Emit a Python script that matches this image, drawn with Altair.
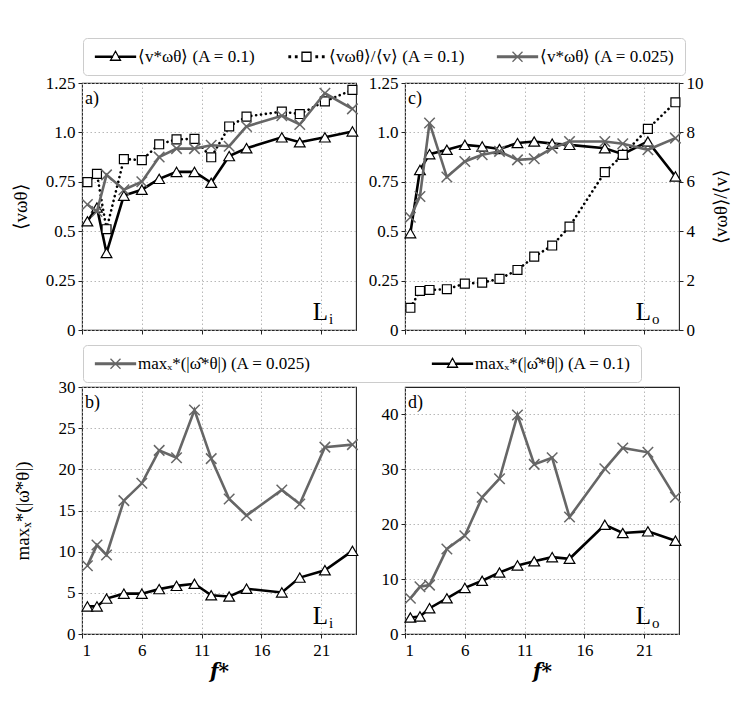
import altair as alt
import pandas as pd

# ---------------- data ----------------
F = [1.45, 2.25, 3.05, 4.5, 6.0, 7.45, 8.9, 10.4, 11.8, 13.3, 14.75, 17.7, 19.2, 21.3, 23.6]

# panel a (L_i)
A_VSTAR_01 = [0.55, 0.62, 0.39, 0.68, 0.71, 0.765, 0.80, 0.80, 0.745, 0.88, 0.92, 0.975, 0.95, 0.975, 1.005]
A_RATIO_01 = [0.748, 0.79, 0.51, 0.865, 0.86, 0.94, 0.965, 0.967, 0.874, 1.03, 1.08, 1.105, 1.093, 1.157, 1.215]
A_VSTAR_0025 = [0.635, 0.60, 0.785, 0.71, 0.75, 0.875, 0.918, 0.918, 0.935, 0.93, 1.03, 1.084, 1.04, 1.198, 1.119]

# panel c (L_o)
C_VSTAR_01 = [0.49, 0.81, 0.89, 0.912, 0.937, 0.929, 0.916, 0.946, 0.954, 0.943, 0.937, 0.92, 0.89, 0.954, 0.777]
C_RATIO_01 = [0.90, 1.58, 1.62, 1.65, 1.88, 1.92, 2.07, 2.43, 2.97, 3.42, 4.19, 6.39, 7.09, 8.14, 9.22]
C_VSTAR_0025 = [0.571, 0.676, 1.048, 0.774, 0.853, 0.887, 0.904, 0.861, 0.867, 0.92, 0.954, 0.954, 0.943, 0.912, 0.971]

# panel b (L_i)
B_OMEGA_0025 = [8.3, 10.8, 9.6, 16.2, 18.3, 22.3, 21.4, 27.2, 21.3, 16.4, 14.4, 17.5, 15.8, 22.7, 23.0]
B_OMEGA_01 = [3.35, 3.35, 4.3, 4.9, 4.9, 5.45, 5.85, 6.1, 4.7, 4.55, 5.5, 5.05, 6.85, 7.75, 10.1]

# panel d (L_o)
D_OMEGA_0025 = [6.5, 8.6, 8.9, 15.5, 17.9, 24.9, 28.3, 39.9, 30.9, 32.1, 21.3, 30.1, 33.9, 33.1, 24.9]
D_OMEGA_01 = [3.0, 3.2, 4.7, 6.5, 8.4, 9.7, 11.2, 12.5, 13.25, 14.0, 13.7, 19.9, 18.4, 18.7, 17.0]

X_TICKS = [1, 6, 11, 16, 21]
X_DOMAIN = [1, 23.9]
V_DOMAIN = [0, 1.25]
V_TICKS = [0, 0.25, 0.5, 0.75, 1.0, 1.25]
R_DOMAIN = [0, 10]
R_TICKS = [0, 2, 4, 6, 8, 10]
B_DOMAIN = [0, 30]
B_TICKS = [0, 5, 10, 15, 20, 25, 30]
D_DOMAIN = [0, 45]
D_TICKS = [0, 10, 20, 30, 40]

TOP_LABELS = ["⟨v*ωθ⟩ (A = 0.1)", "⟨vωθ⟩/⟨v⟩ (A = 0.1)", "⟨v*ωθ⟩ (A = 0.025)"]
BOT_LABELS = ["maxₓ*(|ω̂*θ|) (A = 0.025)", "maxₓ*(|ω̂*θ|) (A = 0.1)"]

# ---------------- style ----------------
FONT = "Liberation Serif"
GRAY = "#666666"
W, H = 274, 247
X_PATH = "M-1,-1L1,1M-1,1L1,-1"
TRI_LEG = "M-4,-0.14H-0.62V0.14H-4Z M0.62,-0.14H4V0.14H0.62Z M0,-1.1L1,0.7L-1,0.7Z"
SQ_LEG = ("M-0.9,-0.9H0.9V0.9H-0.9Z M-3.5,-0.15h0.3v0.3h-0.3Z M-2.2,-0.15h0.3v0.3h-0.3Z "
          "M1.9,-0.15h0.3v0.3h-0.3Z M3.2,-0.15h0.3v0.3h-0.3Z")
X_LEG = "M-4,-0.15H4V0.15H-4Z M-1,-1L1,1M-1,1L1,-1"

GRID = dict(grid=True, gridColor="#b0b0b0", gridDash=[1.5, 2.5], gridWidth=0.9)


def frame(vals):
    return pd.DataFrame({"f": F, "v": vals})


def x_enc(axis=None):
    kw = dict(scale=alt.Scale(domain=X_DOMAIN, nice=False, zero=False))
    if axis is not None:
        kw["axis"] = axis
    return alt.X("f:Q", **kw)


def y_enc(domain, axis=None, hide=False):
    kw = dict(scale=alt.Scale(domain=domain, nice=False, zero=False))
    if axis is not None:
        kw["axis"] = axis
    elif hide:
        kw["axis"] = None
    return alt.Y("v:Q", **kw)


def x_bottom(labels):
    kw = dict(values=X_TICKS, labels=labels, domain=False, ticks=True, tickSize=4,
              tickColor="#222", labelFontSize=17, labelPadding=4, labelColor="black",
              titleFont="DejaVu Serif", titleFontSize=20, titleFontWeight="bold",
              titleFontStyle="italic", titlePadding=3, titleColor="black", **GRID)
    kw["title"] = "f*" if labels else ""
    return alt.Axis(**kw)


def y_left(values, title, pad, expr=None):
    kw = dict(values=values, title=title, domain=False, ticks=True, tickSize=4,
              tickColor="#222", labelFontSize=17, labelPadding=3, labelColor="black",
              titleFontSize=19, titleFontWeight="normal", titlePadding=pad,
              titleColor="black", **GRID)
    if expr:
        kw["labelExpr"] = expr
    return alt.Axis(**kw)


V_EXPR = "datum.value == 1 ? '1.0' : format(datum.value, '~g')"

Y_RIGHT = alt.Axis(orient="right", values=R_TICKS, title="⟨vωθ⟩/⟨v⟩", grid=False,
                   domain=False, ticks=True, tickSize=4, tickColor="#222",
                   labelFontSize=17, labelPadding=3, labelColor="black",
                   titleFontSize=19, titleFontWeight="normal", titlePadding=8,
                   titleAngle=270, titleBaseline="top", titleColor="black")


def solid_line(vals, color, domain, xaxis=None, yaxis=None, hide=False):
    return alt.Chart(frame(vals)).mark_line(color=color, strokeWidth=2.6).encode(
        x=x_enc(xaxis), y=y_enc(domain, yaxis, hide))


def dotted_line(vals, domain, yaxis=None, hide=False):
    return alt.Chart(frame(vals)).mark_line(
        color="black", strokeWidth=2.6, strokeDash=[0.1, 4.8], strokeCap="round").encode(
        x=x_enc(), y=y_enc(domain, yaxis, hide))


def tri_pts(vals, domain, hide=False):
    return alt.Chart(frame(vals)).mark_point(
        shape="triangle-up", size=115, filled=True, fill="white", stroke="black",
        strokeWidth=1.2, opacity=1).encode(x=x_enc(), y=y_enc(domain, None, hide))


def sq_pts(vals, domain, hide=False):
    return alt.Chart(frame(vals)).mark_point(
        shape="square", size=80, filled=True, fill="white", stroke="black",
        strokeWidth=1.2, opacity=1).encode(x=x_enc(), y=y_enc(domain, None, hide))


def x_pts(vals, domain, hide=False):
    return alt.Chart(frame(vals)).mark_point(
        shape=X_PATH, size=110, filled=False, stroke=GRAY, strokeWidth=1.5,
        opacity=1).encode(x=x_enc(), y=y_enc(domain, None, hide))


def legend_layer(labels, paths, strokes, domain, below, legend_y, col_pad):
    n = len(labels)
    d = pd.DataFrame({"f": [12.0] * n, "v": [below] * n, "series": labels})
    leg = alt.Legend(orient="none", legendX=1, legendY=legend_y, direction="horizontal",
                     columns=n, title=None, symbolOffset=14, labelOffset=14,
                     columnPadding=col_pad, padding=10, strokeColor="#cccccc",
                     cornerRadius=4, fillColor="white", labelFont=FONT,
                     labelFontSize=17, labelColor="black", labelLimit=0,
                     symbolSize=100, symbolStrokeWidth=1.3)
    return alt.Chart(d).mark_point(clip=True, size=100, filled=True, strokeWidth=1.3,
                                   opacity=1).encode(
        x=x_enc(), y=y_enc(domain),
        shape=alt.Shape("series:N", scale=alt.Scale(domain=labels, range=paths), legend=leg),
        stroke=alt.Stroke("series:N", scale=alt.Scale(domain=labels, range=strokes), legend=leg),
        fill=alt.Fill("series:N", scale=alt.Scale(domain=labels, range=["white"] * n), legend=leg),
    )


def text_layer(txt, x, y, size, align="left"):
    return alt.Chart(pd.DataFrame({"t": [txt]})).mark_text(
        align=align, baseline="alphabetic", fontSize=size, font=FONT, color="black").encode(
        text="t:N", x=alt.value(x), y=alt.value(y))


def corner_labels(tag, sub):
    return [text_layer(tag, 3, 21, 18),
            text_layer("L", W - 28, H - 10, 25, align="right"),
            text_layer(sub, W - 27, H - 6, 15)]


# ---------------- panels ----------------
panel_a = alt.layer(
    solid_line(A_VSTAR_01, "black", V_DOMAIN, x_bottom(False), y_left(V_TICKS, "⟨vωθ⟩", 15, V_EXPR)),
    tri_pts(A_VSTAR_01, V_DOMAIN),
    dotted_line(A_RATIO_01, V_DOMAIN),
    sq_pts(A_RATIO_01, V_DOMAIN),
    solid_line(A_VSTAR_0025, GRAY, V_DOMAIN),
    x_pts(A_VSTAR_0025, V_DOMAIN),
    *corner_labels("a)", "i"),
    legend_layer(TOP_LABELS, [TRI_LEG, SQ_LEG, X_LEG], ["black", "black", GRAY],
                 V_DOMAIN, -0.15, -45, 28),
).properties(width=W, height=H)

panel_c = alt.layer(
    solid_line(C_VSTAR_01, "black", V_DOMAIN, x_bottom(False), y_left(V_TICKS, "", 15, V_EXPR)),
    tri_pts(C_VSTAR_01, V_DOMAIN, hide=True),
    dotted_line(C_RATIO_01, R_DOMAIN, Y_RIGHT),
    sq_pts(C_RATIO_01, R_DOMAIN, hide=True),
    solid_line(C_VSTAR_0025, GRAY, V_DOMAIN, hide=True),
    x_pts(C_VSTAR_0025, V_DOMAIN, hide=True),
    *corner_labels("c)", "o"),
).resolve_scale(y="independent").properties(width=W, height=H)

panel_b = alt.layer(
    solid_line(B_OMEGA_0025, GRAY, B_DOMAIN, x_bottom(True), y_left(B_TICKS, "maxₓ*(|ω̂*θ|)", 26)),
    x_pts(B_OMEGA_0025, B_DOMAIN),
    solid_line(B_OMEGA_01, "black", B_DOMAIN),
    tri_pts(B_OMEGA_01, B_DOMAIN),
    *corner_labels("b)", "i"),
    legend_layer(BOT_LABELS, [X_LEG, TRI_LEG], [GRAY, "black"], B_DOMAIN, -3.5, -42, 118),
).properties(width=W, height=H)

panel_d = alt.layer(
    solid_line(D_OMEGA_0025, GRAY, D_DOMAIN, x_bottom(True), y_left(D_TICKS, "", 15)),
    x_pts(D_OMEGA_0025, D_DOMAIN),
    solid_line(D_OMEGA_01, "black", D_DOMAIN),
    tri_pts(D_OMEGA_01, D_DOMAIN),
    *corner_labels("d)", "o"),
).properties(width=W, height=H)

IND = dict(shape="independent", stroke="independent", fill="independent")

chart = alt.concat(
    panel_a, panel_c, panel_b, panel_d, columns=2,
    spacing=alt.RowColnumber(row=57, column=49), bounds="flush",
).resolve_scale(**IND).properties(
    padding={"left": 2, "top": 28, "right": 3, "bottom": 3}
).configure(font=FONT, background="white").configure_view(
    stroke="#222222", strokeWidth=1.1
).configure_axis(labelFont=FONT, titleFont=FONT)

chart.save("out.html", embed_options={"renderer": "svg", "actions": False})
